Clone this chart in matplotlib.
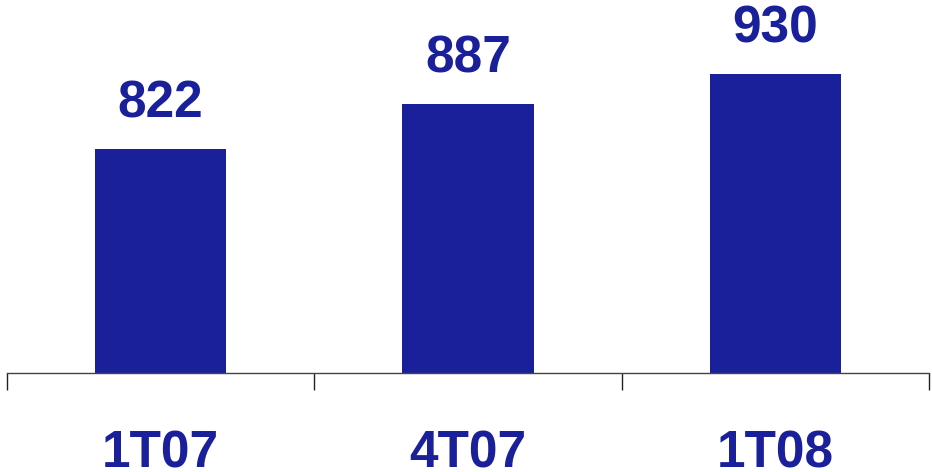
import matplotlib
matplotlib.use("Agg")
from matplotlib import pyplot as plt

# data
categories = ["1T07", "4T07", "1T08"]
values = [822, 887, 930]

blue = "#1A1F9A"

fig = plt.figure(figsize=(9.32, 4.72), dpi=100)
ax = fig.add_axes([7 / 932, 99 / 472, 922 / 932, 373 / 472])

x = list(range(len(categories)))
ax.bar(x, values, width=0.427, color=blue, zorder=2)

for xi, v in zip(x, values):
    ax.annotate(str(v), (xi, v), xytext=(0, 15), textcoords="offset points",
                ha="center", va="bottom", fontsize=37, fontweight="bold",
                color=blue, family="Liberation Sans")

ax.set_xlim(-0.5, 2.5)
ax.set_ylim(500, 1037)

for s in ["top", "right", "left"]:
    ax.spines[s].set_visible(False)
ax.spines["bottom"].set_color("#444444")
ax.spines["bottom"].set_linewidth(1.0)

ax.set_yticks([])
ax.set_xticks(x)
ax.set_xticklabels(categories, fontsize=37, fontweight="bold", color=blue,
                   family="Liberation Sans")
ax.tick_params(axis="x", which="major", length=0, pad=40.5)
ax.set_xticks([-0.5, 0.5, 1.5, 2.5], minor=True)
ax.tick_params(axis="x", which="minor", length=12.5, width=1.0, color="#222222",
               direction="out")

fig.savefig("out.png", dpi=100)
